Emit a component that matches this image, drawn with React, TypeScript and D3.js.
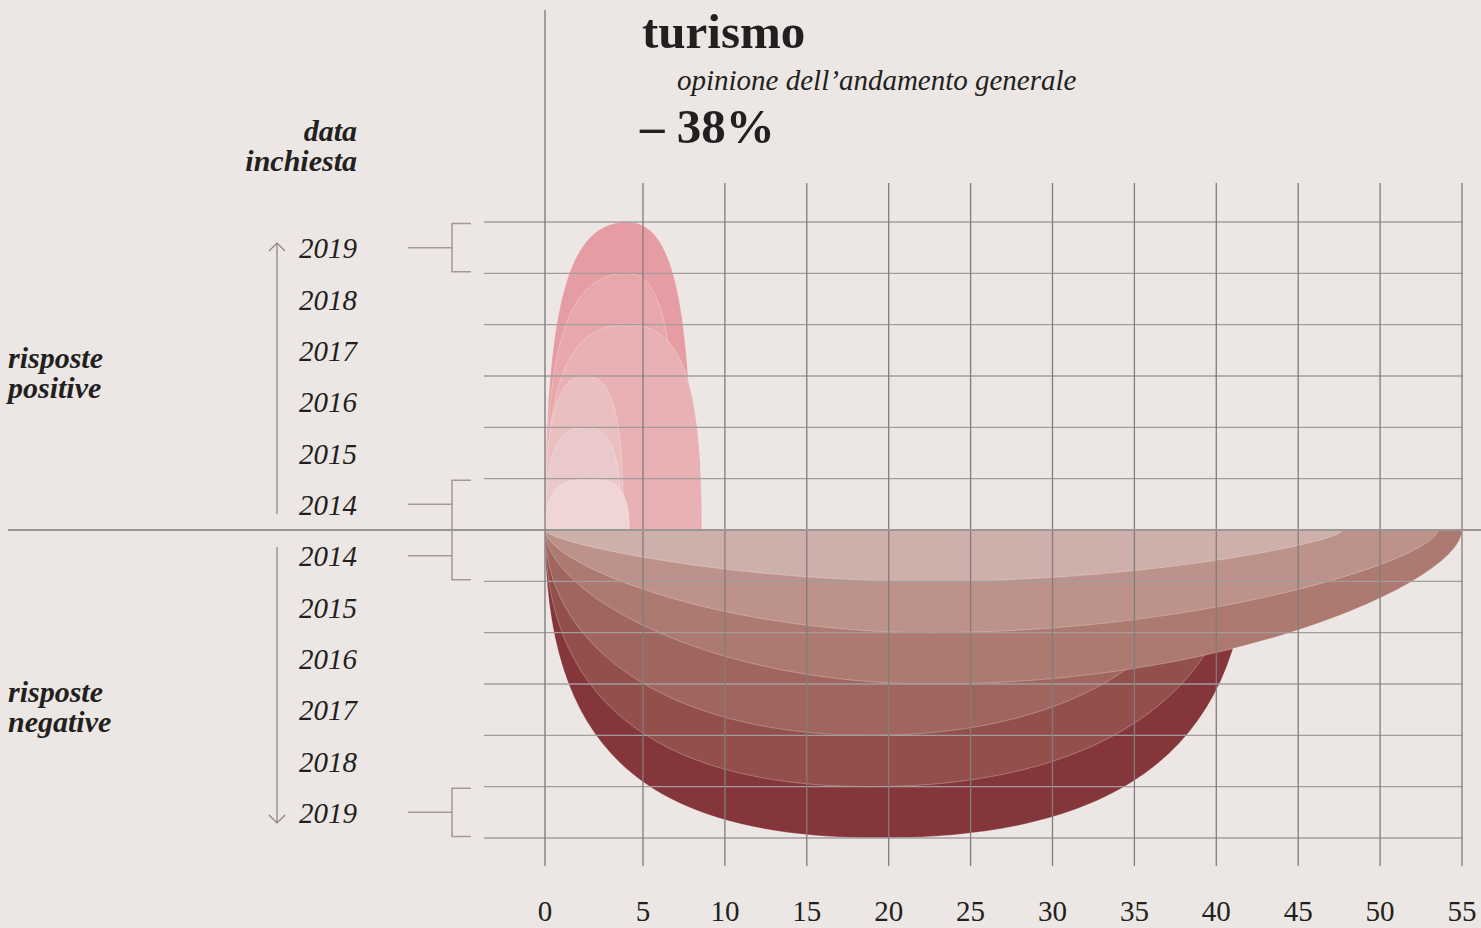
import React from 'react';
import * as d3 from 'd3';

// anni dell'inchiesta
const years = [2014, 2015, 2016, 2017, 2018, 2019];
// risposte positive: fine della forma e punto più alto (in %)
const positiveEnd = [4.3, 3.9, 4.0, 8.6, 7.1, 8.0];
const positivePeak = [2.3, 2.1, 2.1, 4.2, 4.2, 4.2];
// risposte negative
const negativeEnd = [47.7, 53.5, 55, 39.5, 41.5, 42];
const negativePeak = [22.5, 22.5, 22.7, 18.9, 18.9, 19.5];
// etichette asse x
const xTicks = [0, 5, 10, 15, 20, 25, 30, 35, 40, 45, 50, 55];

const positiveColors = ['#efd6d4', '#e9c9cb', '#eabfbf', '#e9b1b3', '#e8a7ab', '#e59ca2'];
const negativeColors = ['#cdb0aa', '#bc928a', '#ac7a71', '#a0655e', '#924f4c', '#85363a'];

const serif = '"Liberation Serif", "Times New Roman", serif';
const W = 1481;
const H = 928;

// scala x: il primo intervallo (0-5) è più largo degli altri, come nell'originale
const x = d3.scaleLinear().domain([0, 5, 55]).range([545, 643, 1462]);
// scala y: righe degli anni, 0 = linea di base
const y = d3.scaleLinear().domain([-6, 6]).range([838, 222]);

// forma a "petalo": due quarti di curva dalla base al punto più lontano
function petal(x0: number, px: number, x1: number, yBase: number, yTip: number) {
  const depth = Math.abs(yTip - yBase);
  const side = (half: number) => {
    const aspect = depth / Math.max(half, 1);
    return {
      kv: Math.min(0.74, 0.15 + 0.6 * aspect),
      kh: Math.min(0.72, 0.5 + 0.25 * aspect),
    };
  };
  const L = side(px - x0);
  const R = side(x1 - px);
  const p = d3.path();
  p.moveTo(x0, yBase);
  p.bezierCurveTo(x0, yBase + L.kv * (yTip - yBase), px - L.kh * (px - x0), yTip, px, yTip);
  p.bezierCurveTo(px + R.kh * (x1 - px), yTip, x1, yBase + R.kv * (yTip - yBase), x1, yBase);
  p.closePath();
  return p.toString();
}

const App = () => {
  const base = y(0);
  const order = d3.range(years.length).reverse(); // 2019 dietro, 2014 davanti
  const gridRows = d3.range(-6, 7).filter(k => k !== 0);
  const labelX = 357;

  return (
    <svg width={W} height={H} style={{ position: 'fixed', top: 0, left: 0, display: 'block' }}>
      <rect x={0} y={0} width={W} height={H} fill="#ece7e4" />

      {/* risposte negative */}
      {order.map(i => (
        <path
          key={'n' + i}
          d={petal(x(0), x(negativePeak[i]), x(negativeEnd[i]), base, y(-(i + 1)))}
          fill={negativeColors[i]}
          stroke="rgba(255,255,255,0.35)"
          strokeWidth={0.8}
        />
      ))}
      {/* risposte positive */}
      {order.map(i => (
        <path
          key={'p' + i}
          d={petal(x(0), x(positivePeak[i]), x(positiveEnd[i]), base, y(i + 1))}
          fill={positiveColors[i]}
          stroke="rgba(255,255,255,0.35)"
          strokeWidth={0.8}
        />
      ))}

      {/* griglia */}
      {gridRows.map(k => (
        <line key={'h' + k} x1={484} x2={x(55) + 1} y1={y(k)} y2={y(k)} stroke="#a39d9d" strokeWidth={1.4} />
      ))}
      {xTicks.slice(1).map(v => (
        <line key={'v' + v} x1={x(v)} x2={x(v)} y1={183} y2={866} stroke="#857b7d" strokeWidth={1.3} />
      ))}
      <line x1={8} x2={W} y1={base} y2={base} stroke="#9b9696" strokeWidth={2} />
      <line x1={x(0)} x2={x(0)} y1={10} y2={866} stroke="#857b7d" strokeWidth={1.4} />

      {/* etichette asse x */}
      {xTicks.map(v => (
        <text key={'t' + v} x={x(v)} y={921} textAnchor="middle" fontFamily={serif} fontSize={29} fill="#231f20">
          {v}
        </text>
      ))}

      {/* anni */}
      {years.map((yr, i) => (
        <text key={'py' + yr} x={labelX} y={(y(i + 1) + y(i)) / 2 + 10.5} textAnchor="end"
          fontFamily={serif} fontStyle="italic" fontSize={29} fill="#231f20">{yr}</text>
      ))}
      {years.map((yr, i) => (
        <text key={'ny' + yr} x={labelX} y={(y(-(i + 1)) + y(-i)) / 2 + 10.5} textAnchor="end"
          fontFamily={serif} fontStyle="italic" fontSize={29} fill="#231f20">{yr}</text>
      ))}

      {/* parentesi */}
      {[
        { top: y(6), bottom: y(5), ticks: [(y(6) + y(5)) / 2] },
        { top: y(1), bottom: y(-1), ticks: [(y(1) + y(0)) / 2, (y(0) + y(-1)) / 2] },
        { top: y(-5), bottom: y(-6), ticks: [(y(-5) + y(-6)) / 2] },
      ].map((b, j) => (
        <g key={'b' + j} stroke="#a39797" strokeWidth={1.5} fill="none">
          <path d={`M471,${b.top + 1.5}H452V${b.bottom - 1.5}H471`} />
          {b.ticks.map(t => <line key={t} x1={408} x2={452} y1={t} y2={t} />)}
        </g>
      ))}

      {/* frecce */}
      <g stroke="#8a8082" strokeWidth={1.2} fill="none">
        <line x1={277} x2={277} y1={243} y2={514} />
        <path d="M269,251L277,243L285,251" />
        <line x1={277} x2={277} y1={547} y2={823} />
        <path d="M269,815L277,823L285,815" />
      </g>

      {/* titoli */}
      <text x={642} y={48} fontFamily={serif} fontWeight="bold" fontSize={49} fill="#231f20">turismo</text>
      <text x={677} y={90} fontFamily={serif} fontStyle="italic" fontSize={29} fill="#231f20">
        opinione dell’andamento generale
      </text>
      <text x={640} y={143} fontFamily={serif} fontWeight="bold" fontSize={49} fill="#231f20">– 38%</text>

      <g fontFamily={serif} fontWeight="bold" fontStyle="italic" fill="#231f20" fontSize={30}>
        <text x={labelX} y={141} textAnchor="end">data</text>
        <text x={labelX} y={171} textAnchor="end">inchiesta</text>
        <text x={8} y={368}>risposte</text>
        <text x={8} y={398}>positive</text>
        <text x={8} y={702}>risposte</text>
        <text x={8} y={732}>negative</text>
      </g>
    </svg>
  );
};

export default App;
